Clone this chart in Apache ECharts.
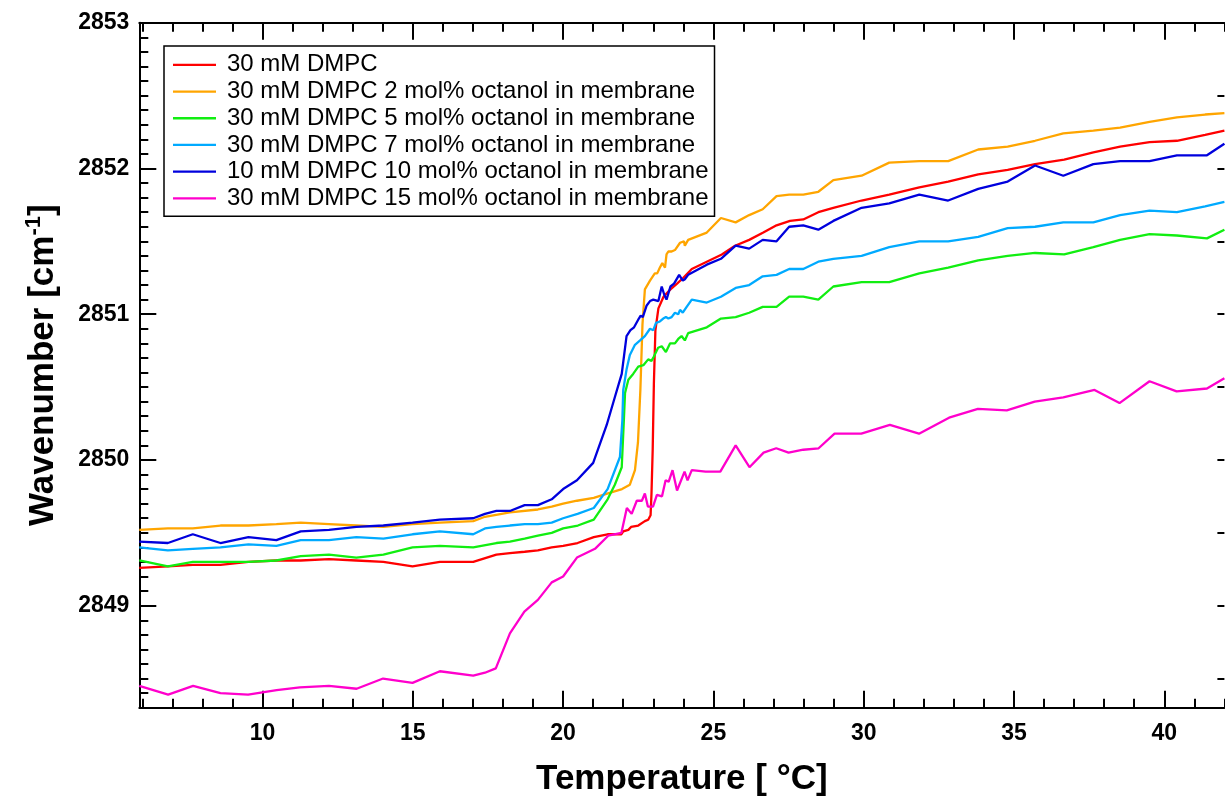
<!DOCTYPE html>
<html><head><meta charset="utf-8">
<script src="https://cdn.jsdelivr.net/npm/echarts@6/dist/echarts.min.js"></script>
<style>html,body{margin:0;padding:0;background:#fff}#c{width:1225px;height:796px}</style>
</head><body><div id="c"></div>
<script>
const seriesNames = [
  '30 mM DMPC',
  '30 mM DMPC 2 mol% octanol in membrane',
  '30 mM DMPC 5 mol% octanol in membrane',
  '30 mM DMPC 7 mol% octanol in membrane',
  '10 mM DMPC 10 mol% octanol in membrane',
  '30 mM DMPC 15 mol% octanol in membrane'
];
const seriesColors = ['#ff0000', '#ffa500', '#11ee11', '#00aaff', '#0000dd', '#ff00cc'];

const redTemps = [5.90,6.85,7.68,8.60,9.53,10.46,11.27,12.21,13.12,14.02,14.99,15.90,17.01,17.78,18.23,18.72,19.16,19.62,20.00,20.48,21.02,21.48,21.94,22.00,22.17,22.26,22.50,22.72,22.83,22.91,22.94,22.98,23.02,23.07,23.17,23.34,23.57,23.79,24.00,24.28,24.78,25.28,25.72,26.19,26.66,27.10,27.55,27.99,28.49,28.99,29.93,30.85,31.85,32.81,33.81,34.79,35.70,36.67,37.64,38.53,39.51,40.42,41.36,42.00];
const redValues = [2849.26,2849.27,2849.28,2849.28,2849.30,2849.31,2849.31,2849.32,2849.31,2849.30,2849.27,2849.30,2849.30,2849.35,2849.36,2849.37,2849.38,2849.40,2849.41,2849.43,2849.47,2849.49,2849.49,2849.51,2849.52,2849.54,2849.55,2849.58,2849.59,2849.62,2849.77,2850.07,2850.53,2850.89,2851.04,2851.12,2851.17,2851.21,2851.25,2851.31,2851.36,2851.41,2851.47,2851.51,2851.56,2851.61,2851.64,2851.65,2851.70,2851.73,2851.78,2851.82,2851.87,2851.91,2851.96,2851.99,2852.03,2852.06,2852.11,2852.15,2852.18,2852.19,2852.23,2852.26];

const orangeTemps = [5.90,6.85,7.68,8.60,9.53,10.46,11.27,12.21,13.12,14.02,14.99,15.90,17.01,17.40,18.23,19.16,19.62,20.00,20.46,21.02,21.49,21.96,22.22,22.39,22.49,22.57,22.64,22.72,22.89,23.05,23.13,23.22,23.30,23.39,23.44,23.50,23.61,23.72,23.89,24.02,24.05,24.16,24.78,25.25,25.74,26.19,26.64,27.10,27.52,27.99,28.49,28.99,29.93,30.85,31.85,32.81,33.81,34.79,35.70,36.64,37.64,38.53,39.51,40.42,41.36,42.00];
const orangeValues = [2849.52,2849.53,2849.53,2849.55,2849.55,2849.56,2849.57,2849.56,2849.55,2849.54,2849.56,2849.57,2849.58,2849.61,2849.64,2849.66,2849.68,2849.70,2849.72,2849.74,2849.77,2849.80,2849.83,2849.93,2850.12,2850.48,2850.93,2851.17,2851.23,2851.28,2851.28,2851.32,2851.35,2851.32,2851.41,2851.43,2851.43,2851.44,2851.49,2851.50,2851.47,2851.51,2851.56,2851.66,2851.63,2851.68,2851.72,2851.81,2851.82,2851.82,2851.84,2851.92,2851.95,2852.04,2852.05,2852.05,2852.13,2852.15,2852.19,2852.24,2852.26,2852.28,2852.32,2852.35,2852.37,2852.38];

const greenTemps = [5.90,6.85,7.68,8.60,9.53,10.46,11.27,12.21,13.12,14.02,14.99,15.90,17.01,17.78,18.23,18.72,19.16,19.62,20.00,20.49,21.02,21.48,21.72,21.95,22.02,22.06,22.17,22.33,22.50,22.67,22.83,22.94,23.02,23.16,23.28,23.42,23.56,23.72,23.83,23.94,24.05,24.16,24.78,25.25,25.74,26.19,26.64,27.10,27.52,27.99,28.49,28.99,29.93,30.85,31.85,32.81,33.81,34.79,35.70,36.67,37.64,38.53,39.51,40.42,41.42,42.00];
const greenValues = [2849.31,2849.27,2849.30,2849.30,2849.30,2849.31,2849.34,2849.35,2849.33,2849.35,2849.40,2849.41,2849.40,2849.43,2849.44,2849.46,2849.48,2849.50,2849.53,2849.55,2849.59,2849.73,2849.83,2849.95,2850.27,2850.46,2850.55,2850.59,2850.64,2850.65,2850.69,2850.68,2850.71,2850.77,2850.78,2850.74,2850.80,2850.80,2850.83,2850.85,2850.82,2850.87,2850.91,2850.97,2850.98,2851.01,2851.05,2851.05,2851.12,2851.12,2851.10,2851.19,2851.22,2851.22,2851.28,2851.32,2851.37,2851.40,2851.42,2851.41,2851.46,2851.51,2851.55,2851.54,2851.52,2851.58];

const lightBlueTemps = [5.90,6.85,7.68,8.60,9.53,10.46,11.27,12.21,13.12,14.02,14.99,15.90,17.01,17.40,17.78,18.23,18.72,19.16,19.62,20.00,20.48,21.02,21.48,21.89,21.97,22.00,22.11,22.22,22.39,22.56,22.72,22.89,23.00,23.09,23.22,23.33,23.42,23.50,23.61,23.72,23.83,23.89,23.98,24.11,24.28,24.78,25.25,25.74,26.19,26.64,27.10,27.52,27.99,28.49,28.99,29.93,30.85,31.85,32.81,33.81,34.79,35.70,36.64,37.64,38.53,39.51,40.42,41.36,42.00];
const lightBlueValues = [2849.40,2849.38,2849.39,2849.40,2849.42,2849.41,2849.45,2849.45,2849.47,2849.46,2849.49,2849.51,2849.49,2849.53,2849.54,2849.55,2849.56,2849.56,2849.57,2849.60,2849.63,2849.67,2849.80,2850.02,2850.27,2850.48,2850.62,2850.72,2850.79,2850.82,2850.85,2850.90,2850.89,2850.94,2850.95,2850.97,2850.98,2850.97,2850.98,2851.01,2851.00,2851.03,2851.01,2851.05,2851.10,2851.08,2851.12,2851.18,2851.20,2851.26,2851.27,2851.31,2851.31,2851.36,2851.38,2851.40,2851.46,2851.50,2851.50,2851.53,2851.59,2851.60,2851.63,2851.63,2851.68,2851.71,2851.70,2851.74,2851.77];

const blueTemps = [5.90,6.85,7.68,8.60,9.53,10.46,11.27,12.21,13.12,14.02,14.99,15.90,17.01,17.40,17.78,18.23,18.72,19.16,19.62,20.00,20.46,21.00,21.45,21.72,21.95,22.11,22.24,22.36,22.42,22.52,22.58,22.65,22.78,22.89,23.00,23.17,23.28,23.37,23.44,23.57,23.69,23.86,23.98,24.05,24.16,24.78,25.25,25.74,26.19,26.64,27.10,27.52,27.99,28.49,28.99,29.93,30.85,31.85,32.81,33.81,34.79,35.70,36.64,37.64,38.53,39.51,40.42,41.42,42.00];
const blueValues = [2849.44,2849.43,2849.49,2849.43,2849.47,2849.45,2849.51,2849.52,2849.54,2849.55,2849.57,2849.59,2849.60,2849.63,2849.65,2849.65,2849.69,2849.69,2849.73,2849.80,2849.86,2849.98,2850.24,2850.43,2850.59,2850.85,2850.89,2850.91,2850.90,2850.97,2850.99,2850.98,2851.06,2851.09,2851.10,2851.09,2851.19,2851.13,2851.10,2851.19,2851.21,2851.27,2851.23,2851.24,2851.27,2851.34,2851.38,2851.47,2851.45,2851.51,2851.50,2851.60,2851.61,2851.58,2851.64,2851.73,2851.76,2851.82,2851.78,2851.86,2851.91,2852.02,2851.95,2852.03,2852.05,2852.05,2852.09,2852.09,2852.17];

const pinkTemps = [5.90,6.86,7.69,8.60,9.52,10.47,11.24,12.21,13.13,14.01,14.99,15.90,17.01,17.40,17.76,18.23,18.71,19.16,19.62,20.00,20.46,21.06,21.50,21.94,22.12,22.28,22.45,22.62,22.72,22.82,22.99,23.12,23.29,23.41,23.51,23.64,23.79,24.04,24.14,24.28,24.74,25.23,25.74,26.20,26.67,27.09,27.50,27.99,28.50,29.03,29.92,30.87,31.84,32.84,33.80,34.76,35.69,36.64,37.68,38.51,39.51,40.41,41.42,42.00];
const pinkValues = [2848.45,2848.39,2848.45,2848.40,2848.39,2848.42,2848.44,2848.45,2848.43,2848.50,2848.47,2848.55,2848.52,2848.54,2848.57,2848.81,2848.96,2849.04,2849.16,2849.20,2849.33,2849.39,2849.48,2849.50,2849.67,2849.63,2849.72,2849.72,2849.77,2849.68,2849.68,2849.76,2849.75,2849.86,2849.85,2849.93,2849.79,2849.92,2849.86,2849.93,2849.92,2849.92,2850.10,2849.95,2850.05,2850.08,2850.05,2850.07,2850.08,2850.18,2850.18,2850.24,2850.18,2850.29,2850.35,2850.34,2850.40,2850.43,2850.48,2850.39,2850.54,2850.47,2850.49,2850.56];

const xMajorTicks = [10, 15, 20, 25, 30, 35, 40];
const xMinorTicks = [6,7,8,9,11,12,13,14,16,17,18,19,21,22,23,24,26,27,28,29,31,32,33,34,36,37,38,39,41,42];
const yMajorTicks = [2849, 2850, 2851, 2852, 2853];
const yMinorTicks = [2848.4,2848.5,2848.6,2848.7,2848.8,2848.9,
  2849.1,2849.2,2849.3,2849.4,2849.5,2849.6,2849.7,2849.8,2849.9,
  2850.1,2850.2,2850.3,2850.4,2850.5,2850.6,2850.7,2850.8,2850.9,
  2851.1,2851.2,2851.3,2851.4,2851.5,2851.6,2851.7,2851.8,2851.9,
  2852.1,2852.2,2852.3,2852.4,2852.5,2852.6,2852.7,2852.8,2852.9];
const yRightTicks = [2848.5,2849,2849.5,2850,2850.5,2851,2851.5,2852,2852.5];

const X_MIN = 5.9, X_MAX = 42, Y_MIN = 2848.3, Y_MAX = 2853;
const FONT = "'Liberation Sans', Arial, Helvetica, sans-serif";

const allTemps = [redTemps, orangeTemps, greenTemps, lightBlueTemps, blueTemps, pinkTemps];
const allValues = [redValues, orangeValues, greenValues, lightBlueValues, blueValues, pinkValues];

const axisLineStyle = { color: '#000', width: 2 };
const plainNumber = v => String(v);
function xAx(pos, ticks, len, labels, line) {
  return {
    type: 'value', min: X_MIN, max: X_MAX, position: pos,
    axisLine: { show: line, lineStyle: axisLineStyle },
    axisTick: { show: true, inside: true, length: len, customValues: ticks, lineStyle: { color: '#000', width: 2 } },
    axisLabel: labels ? { show: true, customValues: ticks, formatter: plainNumber, margin: 14, fontSize: 23, fontWeight: 'bold', color: '#000', fontFamily: FONT } : { show: false },
    splitLine: { show: false }, minorTick: { show: false }
  };
}
function yAx(pos, ticks, len, labels, line) {
  return {
    type: 'value', min: Y_MIN, max: Y_MAX, position: pos,
    axisLine: { show: line, lineStyle: axisLineStyle },
    axisTick: { show: true, inside: true, length: len, customValues: ticks, lineStyle: { color: '#000', width: 2 } },
    axisLabel: labels ? { show: true, customValues: ticks, formatter: plainNumber, margin: 10, fontSize: 23, fontWeight: 'bold', color: '#000', fontFamily: FONT } : { show: false },
    splitLine: { show: false }, minorTick: { show: false }
  };
}

const xAxes = [
  xAx('bottom', xMajorTicks, 17, true, true),
  xAx('bottom', xMinorTicks, 9, false, false),
  xAx('top', xMajorTicks, 17, false, true),
  xAx('top', xMinorTicks, 9, false, false)
];
Object.assign(xAxes[0], {
  name: 'Temperature [ °C]', nameLocation: 'middle', nameGap: 54,
  nameTextStyle: { fontSize: 35, fontWeight: 'bold', color: '#000', fontFamily: FONT }
});
const yAxes = [
  yAx('left', yMajorTicks, 17, true, true),
  yAx('left', yMinorTicks, 9, false, false),
  yAx('right', yRightTicks, 7, false, false)
];
Object.assign(yAxes[0], {
  name: '{t|Wavenumber [cm}{s|-1}{t|]}', nameLocation: 'middle', nameGap: 76, nameRotate: 90,
  nameTextStyle: {
    color: '#000', fontFamily: FONT,
    rich: {
      t: { fontSize: 35, fontWeight: 'bold', color: '#000', fontFamily: FONT, lineHeight: 40 },
      s: { fontSize: 22, fontWeight: 'bold', color: '#000', fontFamily: FONT, verticalAlign: 'top', lineHeight: 22 }
    }
  }
});

const series = seriesNames.map((name, k) => ({
  name: name, type: 'line', xAxisIndex: 0, yAxisIndex: 0,
  symbol: 'none', showSymbol: false, smooth: false,
  color: seriesColors[k],
  lineStyle: { color: seriesColors[k], width: 2.3 },
  data: allTemps[k].map((t, i) => [t, allValues[k][i]]),
  z: 2 + k
}));

const chart = echarts.init(document.getElementById('c'), null, { renderer: 'canvas' });
chart.setOption({
  animation: false,
  backgroundColor: '#fff',
  grid: { left: 139.3, right: 0.6, top: 22.7, bottom: 88.3, containLabel: false, outerBoundsMode: 'none' },
  xAxis: xAxes,
  yAxis: yAxes,
  legend: {
    data: seriesNames, orient: 'vertical', left: 164, top: 46,
    padding: [5.5, 6, 4.5, 9], itemGap: 0, itemWidth: 43, itemHeight: 14,
    backgroundColor: '#fff', borderColor: '#000', borderWidth: 1.5, borderRadius: 0,
    icon: 'path://M0,6 L43,6 L43,8.3 L0,8.3 Z',
    textStyle: { fontSize: 24, color: '#000', fontFamily: FONT, lineHeight: 26.7, padding: [0, 0, 0, 6] },
    selectedMode: false
  },
  series: series
});
</script>
</body></html>
